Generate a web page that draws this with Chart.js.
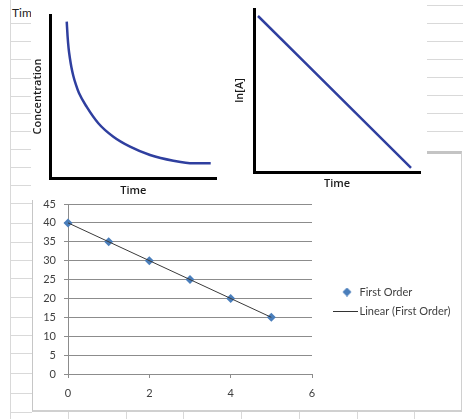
<!DOCTYPE html>
<html>
<head>
<meta charset="utf-8">
<script src="https://cdn.jsdelivr.net/npm/chart.js@4.4.0/dist/chart.umd.min.js"></script>
<style>
  html, body { margin: 0; padding: 0; background: #fff; }
  body { position: relative; width: 463px; height: 419px; overflow: hidden; }
  .hl { position: absolute; height: 1px; background: #d9d9d9; }
  .vl { position: absolute; width: 1px; background: #d9d9d9; }
  #cell { position: absolute; left: 12px; top: 5px; font: 12px Lato, sans-serif; color: #222; white-space: nowrap; }
  #frame { position: absolute; left: 32px; top: 151px; width: 430px; height: 261px; box-sizing: border-box;
           background: #fff; border-left: 1px solid #c6c6c6; border-right: 1px solid #d0d0d0;
           border-bottom: 2px solid #d0d0d0; border-top: 3px solid #c4c4c4; }
  canvas { position: absolute; display: block; }
  #main { left: 32px; top: 153px; }
  #conc { left: 31px; top: 4px; background: #fff; }
  #lnA  { left: 228px; top: 2px; background: #fff; }
</style>
</head>
<body>
<div id="sheet"></div>
<div id="cell">Time</div>
<div id="frame"></div>
<canvas id="main" width="431" height="258"></canvas>
<canvas id="conc" width="197" height="196"></canvas>
<canvas id="lnA" width="199" height="188"></canvas>
<script>
// ---- data ----
// first-order run: time vs concentration
const orderTime   = [0, 1, 2, 3, 4, 5];
const orderValues = [40, 35, 30, 25, 20, 15];
// linear trendline endpoints
const trendTime   = [0, 5];
const trendValues = [40, 15];
const xTicks = [0, 2, 4, 6];
const yTicks = [0, 5, 10, 15, 20, 25, 30, 35, 40, 45];

// concentration decay sketch (arbitrary 0-10 units)
const concTime   = [0.97, 1.02, 1.08, 1.16, 1.25, 1.37, 1.53, 1.71, 2.18, 2.88, 3.79, 4.80, 6.01, 7.42, 8.63, 9.68];
const concValues = [9.59, 8.71, 7.98, 7.36, 6.81, 6.26, 5.71, 5.21, 4.36, 3.36, 2.53, 1.92, 1.41, 1.06, 0.90, 0.90];

// ln[A] sketch (arbitrary 0-10 units)
const lnTime   = [0.24, 9.46];
const lnValues = [9.57, 0.25];

// ---- worksheet grid behind the charts ----
const sheet = document.getElementById('sheet');
function line(cls, css) { const d = document.createElement('div'); d.className = cls; Object.assign(d.style, css); sheet.appendChild(d); }
const leftRows  = [23, 41, 59, 78, 96, 113, 131, 149, 167, 185, 203, 223, 242, 260, 278, 297, 317, 335, 353, 373, 393, 412];
const rightRows = [5, 23, 41, 59, 77, 95, 113, 131];
const bottomCols = [68, 126, 183, 241, 299, 357, 414];
leftRows.forEach(y => line('hl', { left: '10px', top: y + 'px', width: '22px' }));
rightRows.forEach(y => line('hl', { left: '427px', top: y + 'px', width: '36px' }));
bottomCols.forEach(x => line('vl', { left: x + 'px', top: '411px', height: '8px' }));
line('vl', { left: '10px', top: '0px', height: '419px' });

// ---- legend icons ----
function icon(w, h, paint) { const c = document.createElement('canvas'); c.width = w; c.height = h; paint(c.getContext('2d')); return c; }
const diamondIcon = icon(17, 9, g => {
  g.fillStyle = '#4a7ebb'; g.beginPath();
  g.moveTo(12, 0); g.lineTo(16.5, 4.5); g.lineTo(12, 9); g.lineTo(7.5, 4.5); g.closePath(); g.fill();
});
const lineIcon = icon(29, 1, g => { g.fillStyle = '#333'; g.fillRect(4, 0, 25, 1); });

const tickFont = { family: 'Lato, sans-serif', size: 11 };
const pts = (xs, ys) => xs.map((x, i) => ({ x, y: ys[i] }));

// ---- main scatter with trendline ----
new Chart(document.getElementById('main'), {
  type: 'scatter',
  data: {
    datasets: [
      { label: 'First Order', data: pts(orderTime, orderValues), order: 1,
        pointStyle: 'rectRot', pointRadius: 4.5, pointHoverRadius: 4.5,
        backgroundColor: '#4a7ebb', borderColor: '#4a7ebb', borderWidth: 0, clip: false },
      { label: 'Linear (First Order)', type: 'line', data: pts(trendTime, trendValues), order: 0,
        borderColor: '#3a3a3a', borderWidth: 1, pointRadius: 0, fill: false, clip: false }
    ]
  },
  options: {
    responsive: false, animation: false, events: [],
    layout: { padding: { left: 0, top: 51, right: 8, bottom: 12 } },
    plugins: {
      tooltip: { enabled: false },
      legend: {
        position: 'right', align: 'center', maxWidth: 130,
        labels: {
          usePointStyle: true, pointStyleWidth: 21, padding: 8,
          font: tickFont, color: '#404040',
          sort: (a, b) => a.datasetIndex - b.datasetIndex,
          generateLabels(chart) {
            const items = Chart.defaults.plugins.legend.labels.generateLabels(chart);
            items.forEach(it => { it.pointStyle = it.datasetIndex === 0 ? diamondIcon : lineIcon; });
            return items;
          }
        }
      }
    },
    scales: {
      x: {
        type: 'linear', min: 0, max: 6,
        afterBuildTicks: s => { s.ticks = xTicks.map(v => ({ value: v })); },
        ticks: { font: tickFont, color: '#404040', padding: 9 },
        grid: { drawOnChartArea: false, drawTicks: true, tickLength: 4, color: '#8c8c8c' },
        border: { color: '#8c8c8c' },
        afterFit: s => { s.height = 25; }
      },
      y: {
        type: 'linear', min: 0, max: 45,
        afterBuildTicks: s => { s.ticks = yTicks.map(v => ({ value: v })); },
        ticks: { font: tickFont, color: '#404040', padding: 8 },
        grid: { color: '#8c8c8c', tickLength: 4 },
        border: { color: '#8c8c8c' },
        afterFit: s => { s.width = 36; }
      },
      gap: {
        type: 'linear', position: 'right', display: true,
        ticks: { display: false }, grid: { display: false }, border: { display: false },
        afterFit: s => { s.width = 13; }
      }
    }
  }
});

// ---- small sketch charts ----
const sketchTitle = { family: '"Open Sans", sans-serif', size: 11, weight: '600' };
function sketch(id, xs, ys, pad, xH, yW, yTitle, yTitlePad) {
  return new Chart(document.getElementById(id), {
    type: 'scatter',
    data: { datasets: [{ data: pts(xs, ys), showLine: true, borderColor: '#2f3f9f', borderWidth: 2.5,
                         pointRadius: 0, cubicInterpolationMode: 'monotone', clip: false }] },
    options: {
      responsive: false, animation: false, events: [],
      layout: { padding: pad },
      plugins: { legend: { display: false }, tooltip: { enabled: false } },
      scales: {
        x: { type: 'linear', min: 0, max: 10, ticks: { display: false }, grid: { display: false },
             border: { color: '#000', width: 3 },
             title: { display: true, text: 'Time', font: sketchTitle, color: '#1a1a1a', padding: 0 },
             afterFit: s => { s.height = xH; } },
        y: { type: 'linear', min: 0, max: 10, ticks: { display: false }, grid: { display: false },
             border: { color: '#000', width: 3 },
             title: { display: true, text: yTitle, font: sketchTitle, color: '#1a1a1a', padding: { top: yTitlePad, bottom: 0 } },
             afterFit: s => { s.width = yW; } }
      }
    }
  });
}
sketch('conc', concTime, concValues, { left: 0, top: 11, right: 12, bottom: 3 }, 19, 19.7, 'Concentration', 0);
sketch('lnA', lnTime, lnValues, { left: 0, top: 7, right: 7, bottom: 0 }, 18, 26, 'ln[A]', 5);
</script>
</body>
</html>
